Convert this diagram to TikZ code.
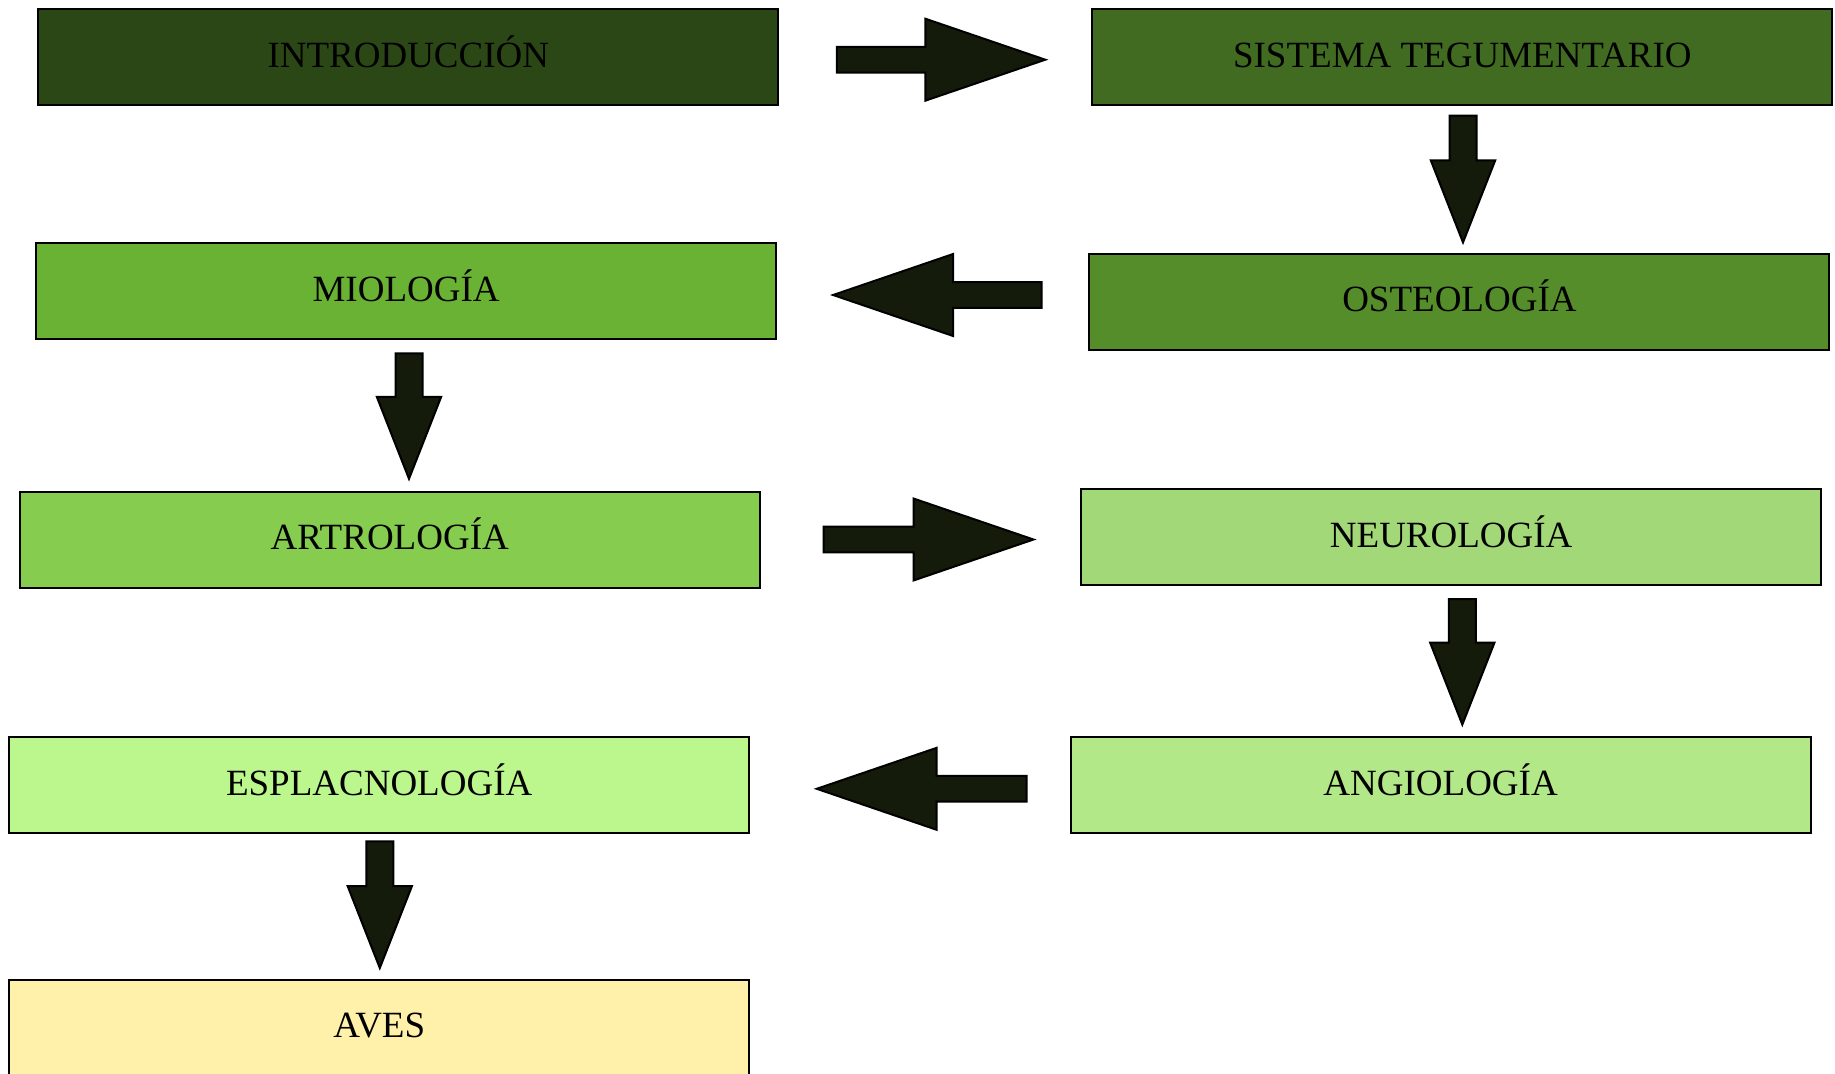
\documentclass[tikz,border=0pt]{standalone}
\usepackage{fontspec}
\setmainfont{Liberation Serif}
\usetikzlibrary{calc}

\definecolor{intro}{HTML}{2C4716}
\definecolor{sist}{HTML}{406B20}
\definecolor{osteo}{HTML}{558D2A}
\definecolor{mio}{HTML}{6AB234}
\definecolor{artro}{HTML}{86CC4E}
\definecolor{neuro}{HTML}{A3D878}
\definecolor{angio}{HTML}{B2E888}
\definecolor{espla}{HTML}{BBF78D}
\definecolor{aves}{HTML}{FFF1AA}
\definecolor{flechafill}{HTML}{141B0A}

\tikzset{
  tema/.style={draw=black, line width=2pt, minimum width=740pt, minimum height=96pt,
    inner sep=0pt, text height=25pt, text depth=5pt, font=\fontsize{37}{44}\selectfont},
  % half shaft / half head / head length
  punta/.code args={#1/#2/#3}{%
    \pgfmathsetmacro\fcola{#1}%
    \pgfmathsetmacro\fbase{veclen(#3,#1)}%
    \pgfmathsetmacro\fbaseang{atan2(#1,#3)}%
    \pgfmathsetmacro\fala{veclen(#3,#2)}%
    \pgfmathsetmacro\falaang{atan2(#2,#3)}},
  flecha/.style={draw=black, line width=2pt, fill=flechafill, line join=miter,
    to path={($(\tikztostart)!\fcola pt!90:(\tikztotarget)$)
      -- ($(\tikztotarget)!\fbase pt!-\fbaseang:(\tikztostart)$)
      -- ($(\tikztotarget)!\fala pt!-\falaang:(\tikztostart)$)
      -- (\tikztotarget)
      -- ($(\tikztotarget)!\fala pt!\falaang:(\tikztostart)$)
      -- ($(\tikztotarget)!\fbase pt!\fbaseang:(\tikztostart)$)
      -- ($(\tikztostart)!\fcola pt!-90:(\tikztotarget)$) -- cycle}},
  flechaH/.style={punta=12.9/41/120, flecha},
  flechaV/.style={punta=13.5/32.2/82, flecha}
}

\begin{document}
\begin{tikzpicture}[x=1pt, y=-1pt]
      \useasboundingbox (0,0) rectangle (1835,1073);
      \node (intro) [tema, fill=intro] at (408.3,57.3) {INTRODUCCIÓN};
      \node (sist) [tema, fill=sist] at (1462.3,57.3) {SISTEMA TEGUMENTARIO};
      \node (mio) [tema, fill=mio] at (406.1,291.4) {MIOLOGÍA};
      \node (osteo) [tema, fill=osteo] at (1459.4,301.9) {OSTEOLOGÍA};
      \node (artro) [tema, fill=artro] at (389.7,539.5) {ARTROLOGÍA};
      \node (neuro) [tema, fill=neuro] at (1451.2,537.2) {NEUROLOGÍA};
      \node (espla) [tema, fill=espla] at (379.2,785.3) {ESPLACNOLOGÍA};
      \node (angio) [tema, fill=angio] at (1440.6,785.3) {ANGIOLOGÍA};
      \node (aves) [tema, fill=aves] at (379.2,1027.5) {AVES};
      \draw [flechaH] ([xshift=57.6pt,yshift=-2.4pt]intro.east) to ([xshift=-46pt,yshift=-2.4pt]sist.west);
      \draw [flechaV] ([xshift=0.7pt,yshift=-9.4pt]sist.south) to ([xshift=3.6pt,yshift=10.5pt]osteo.north);
      \draw [flechaH] ([xshift=-46.7pt,yshift=6.9pt]osteo.west) to ([xshift=56pt,yshift=-3.6pt]mio.east);
      \draw [flechaV] ([xshift=2.9pt,yshift=-12.9pt]mio.south) to ([xshift=19.3pt,yshift=11.7pt]artro.north);
      \draw [flechaH] ([xshift=63pt]artro.east) to ([xshift=-46.7pt,yshift=-2.3pt]neuro.west);
      \draw [flechaV] ([xshift=11.1pt,yshift=-12.8pt]neuro.south) to ([xshift=21.7pt,yshift=11.7pt]angio.north);
      \draw [flechaH] ([xshift=-43.1pt,yshift=-3.5pt]angio.west) to ([xshift=66.5pt,yshift=-3.5pt]espla.east);
      \draw [flechaV] ([xshift=0.6pt,yshift=-7pt]espla.south) to ([xshift=0.6pt,yshift=10.5pt]aves.north);
\end{tikzpicture}
\end{document}
